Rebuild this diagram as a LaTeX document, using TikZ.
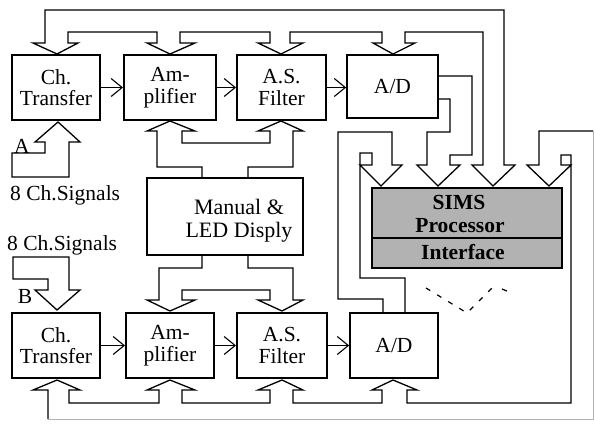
\documentclass[tikz,border=0pt]{standalone}
\usepackage{fontspec}
\setmainfont{Liberation Serif}
\usetikzlibrary{arrows.meta}
\begin{document}
\begin{tikzpicture}[x=1pt,y=-1pt,
  blk/.style={draw, line width=2pt, minimum height=65pt, inner sep=0pt, align=center,
    font=\fontsize{21.5}{21.5}\selectfont},
  pipe/.style={line width=1.3pt, line join=miter},
  faint/.style={line width=1pt, black!30},
  harr/.style={line width=1.1pt, -{Straight Barb[length=11pt,width=18pt,line width=1.1pt]}},
  lbl/.style={font=\fontsize{21.5}{21.5}\selectfont, inner sep=0pt},
  simstxt/.style={font=\fontsize{21.5}{21.5}\selectfont\bfseries, inner sep=0pt}]
\useasboundingbox (0,0) rectangle (594,424);

% top row
\node[blk, minimum width=88pt] (tc1) at (56,87.5) {Ch.\\Transfer};
\node[blk, minimum width=92pt] (am1) at (170,87.5) {Am-\\plifier};
\node[blk, minimum width=89pt] (as1) at (281.5,87.5) {A.S.\\Filter};
\node[blk, minimum width=91pt, minimum height=63pt, line width=1.7pt] (ad1) at (392.5,86.5) {A/D};
% bottom row
\node[blk, minimum width=88pt] (tc2) at (56,345.5) {Ch.\\Transfer};
\node[blk, minimum width=88pt] (am2) at (170,345.5) {Am-\\plifier};
\node[blk, minimum width=90pt] (as2) at (282,345.5) {A.S.\\Filter};
\node[blk, minimum width=88pt, line width=1.7pt] (ad2) at (394,345.5) {A/D};
% manual box
\node[draw, line width=2pt, minimum width=156pt, minimum height=77pt, inner sep=0pt] (man) at (225,216.5) {};
\node[lbl, align=center, font=\fontsize{22}{23}\selectfont] (mantxt) at (239,221) {Manual \&\\LED Disply};
% SIMS box
\node[draw, line width=2pt, fill=black!30, minimum width=190pt, minimum height=80pt, inner sep=0pt] (sims) at (467,228) {};
\draw[line width=1.5pt] (sims.west |- 0,238) -- (sims.east |- 0,238);
\node[simstxt] (s1) at (459,202) {SIMS};
\node[simstxt] (s2) at (460,226) {Processor};
\node[simstxt] (s3) at (463,252) {Interface};

% horizontal arrows
\draw[harr] (tc1.east) -- (am1.west);
\draw[harr] (am1.east) -- (as1.west);
\draw[harr] (as1.east) -- (ad1.west |- as1.east);
\draw[harr] (tc2.east) -- (am2.west);
\draw[harr] (am2.east) -- (as2.west);
\draw[harr] (as2.east) -- (ad2.west);

% top bus
\draw[pipe] (504,165) -- (504,10) -- (45,10) -- (45,43) -- (33,43) -- (57,54) -- (78,43) -- (68,43) -- (68,32)
 -- (157,32) -- (157,43) -- (147,43) -- (170,54) -- (195,43) -- (180,43) -- (180,32)
 -- (270,32) -- (270,43) -- (258,43) -- (281,54) -- (303,43) -- (290,43) -- (290,32)
 -- (382,32) -- (382,43) -- (373,43) -- (393,54) -- (415,43) -- (405,43) -- (405,32)
 -- (483,32) -- (483,165) -- (472,165) -- (493,186) -- (515,165) -- cycle;

% A/D (top) to SIMS
\draw[pipe] (ad1.east |- 0,76) -- (472,76) -- (472,155) -- (450,155) -- (450,165) -- (460,165) -- (438,186)
 -- (417,165) -- (427,165) -- (427,132) -- (450,132) -- (450,99) -- (ad1.east |- 0,99);

% A/D (bottom) to SIMS
\draw[pipe] (ad2.north -| 383,0) -- (383,299) -- (338,299) -- (338,132) -- (392,132) -- (392,165) -- (402,165)
 -- (381,186) -- (360,165) -- (372,165) -- (372,153) -- (360,153) -- (360,278) -- (405,278) -- (ad2.north -| 405,0);

% bottom bus
\draw[pipe] (48,419) -- (48,390) -- (33,390) -- (57,380) -- (80,390) -- (69,390) -- (69,403)
 -- (159,403) -- (159,390) -- (147,390) -- (170,380) -- (195,390) -- (182,390) -- (182,403)
 -- (270,403) -- (270,390) -- (258,390) -- (282,380) -- (303,390) -- (293,390) -- (293,403)
 -- (382,403) -- (382,390) -- (372,390) -- (393,380) -- (417,390) -- (407,390) -- (407,403)
 -- (571,403) -- (571,155) -- (561,155) -- (561,165) -- (571,165) -- (549,186) -- (527,165)
 -- (539,165) -- (539,131) -- (593,131);
\draw[faint] (593,131) -- (593,419) -- (48,419);

% manual box to top row
\draw[pipe] (man.north -| 202,0) -- (202,167) -- (157,167) -- (157,131) -- (147,131) -- (170,121) -- (195,131)
 -- (182,131) -- (182,143) -- (270,143) -- (270,131) -- (258,131) -- (281,121) -- (303,131)
 -- (293,131) -- (293,167) -- (248,167) -- (man.north -| 248,0);
% manual box to bottom row
\draw[pipe] (man.south -| 202,0) -- (202,268) -- (159,268) -- (159,300) -- (147,300) -- (170,311) -- (195,300)
 -- (182,300) -- (182,290) -- (270,290) -- (270,300) -- (258,300) -- (282,311) -- (303,300)
 -- (293,300) -- (293,268) -- (248,268) -- (man.south -| 248,0);

% inputs
\draw[pipe] (12,153) -- (45,153) -- (45,142) -- (35,142) -- (58,122) -- (80,142) -- (69,142) -- (69,177) -- (12,177) -- cycle;
\draw[pipe] (13,257) -- (69,257) -- (69,290) -- (80,290) -- (57,310) -- (35,290) -- (48,290) -- (48,279) -- (13,279) -- cycle;
\node[lbl] (la) at (22,146) {A};
\node[lbl] (lb) at (25,296) {B};
\node[lbl, anchor=west] (sig1) at (10,195) {8 Ch.Signals};
\node[lbl, anchor=west] (sig2) at (7,245) {8 Ch.Signals};

% dashed trace below SIMS
\draw[line width=1.2pt, dash pattern=on 5pt off 8pt] (426,288) -- (467,313) -- (496,284);
\draw[line width=1.2pt] (502,289) -- (507,291);
\end{tikzpicture}
\end{document}
